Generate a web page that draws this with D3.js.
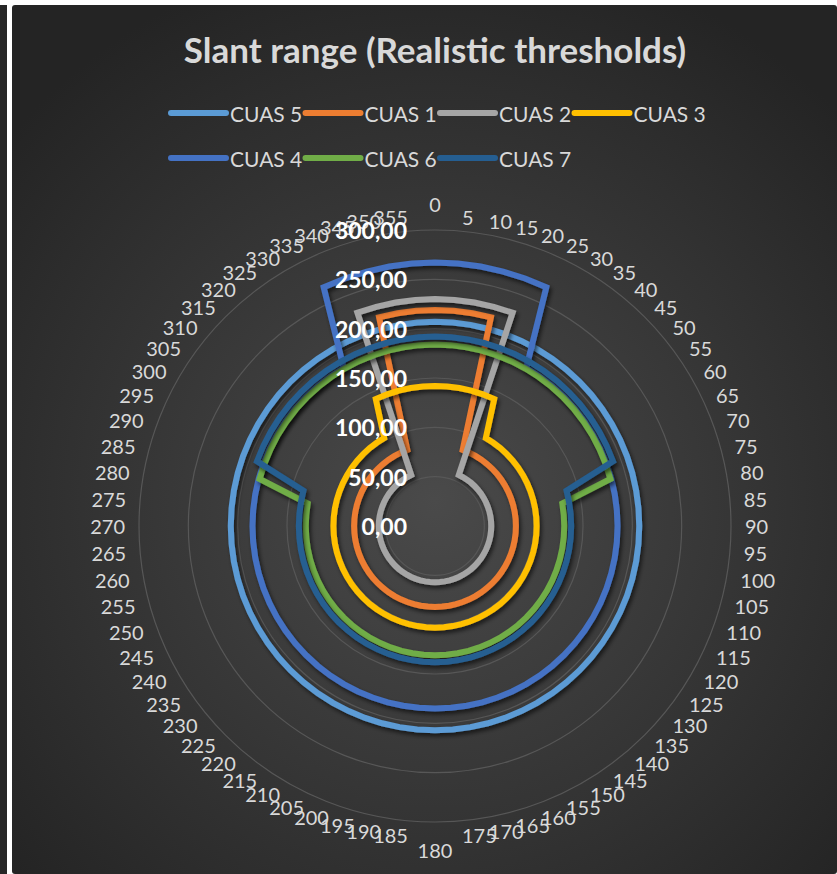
<html lang="en">
<head>
<meta charset="UTF-8">
<title>Slant range (Realistic thresholds)</title>
<script src="https://d3js.org/d3.v7.min.js"></script>
<style>
  body { margin: 0; background: #ffffff; }
  svg { display: block; }
  .cat-label { font-family: Lato, "Noto Sans", sans-serif; font-size: 20px; fill: #d9d9d9; }
  .tick-label { font-family: Lato, "Noto Sans", sans-serif; font-size: 23px; font-weight: bold; fill: #ffffff; }
  .legend-label { font-family: Lato, "Noto Sans", sans-serif; font-size: 21px; fill: #d9d9d9; }
  .title { font-family: Lato, "Noto Sans", sans-serif; font-size: 35px; font-weight: bold; fill: #d9d9d9; }
</style>
</head>
<body>
<div id="chart"></div>

<script>
// Categories (angle in degrees)
const categories = [0, 5, 10, 15, 20, 25, 30, 35, 40, 45, 50, 55, 60, 65, 70, 75, 80, 85,
  90, 95, 100, 105, 110, 115, 120, 125, 130, 135, 140, 145, 150, 155, 160, 165, 170, 175,
  180, 185, 190, 195, 200, 205, 210, 215, 220, 225, 230, 235, 240, 245, 250, 255, 260, 265,
  270, 275, 280, 285, 290, 295, 300, 305, 310, 315, 320, 325, 330, 335, 340, 345, 350, 355];

// Radial axis ticks
const radialTicks = [0, 50, 100, 150, 200, 250, 300];

const seriesNames = ["CUAS 5", "CUAS 1", "CUAS 2", "CUAS 3", "CUAS 4", "CUAS 6", "CUAS 7"];
const seriesColors = ["#5b9bd5", "#ed7d31", "#a5a5a5", "#ffc000", "#4472c4", "#70ad47", "#255e91"];

// Slant range per angle, one value per category
const cuas5 = [
  207, 207, 207, 207, 207, 207, 207, 207, 207, 207, 207, 207,
  207, 207, 207, 207, 207, 207, 207, 207, 207, 207, 207, 207,
  207, 207, 207, 207, 207, 207, 207, 207, 207, 207, 207, 207,
  207, 207, 207, 207, 207, 207, 207, 207, 207, 207, 207, 207,
  207, 207, 207, 207, 207, 207, 207, 207, 207, 207, 207, 207,
  207, 207, 207, 207, 207, 207, 207, 207, 207, 207, 207, 207];
const cuas1 = [
  219, 219, 219, 219, 82, 82, 82, 82, 82, 82, 82, 82,
  82, 82, 82, 82, 82, 82, 82, 82, 82, 82, 82, 82,
  82, 82, 82, 82, 82, 82, 82, 82, 82, 82, 82, 82,
  82, 82, 82, 82, 82, 82, 82, 82, 82, 82, 82, 82,
  82, 82, 82, 82, 82, 82, 82, 82, 82, 82, 82, 82,
  82, 82, 82, 82, 82, 82, 82, 82, 82, 219, 219, 219];
const cuas2 = [
  230, 230, 230, 230, 230, 57, 57, 57, 57, 57, 57, 57,
  57, 57, 57, 57, 57, 57, 57, 57, 57, 57, 57, 57,
  57, 57, 57, 57, 57, 57, 57, 57, 57, 57, 57, 57,
  57, 57, 57, 57, 57, 57, 57, 57, 57, 57, 57, 57,
  57, 57, 57, 57, 57, 57, 57, 57, 57, 57, 57, 57,
  57, 57, 57, 57, 57, 57, 57, 57, 230, 230, 230, 230];
const cuas3 = [
  142, 142, 142, 142, 142, 142, 103, 103, 103, 103, 103, 103,
  103, 103, 103, 103, 103, 103, 103, 103, 103, 103, 103, 103,
  103, 103, 103, 103, 103, 103, 103, 103, 103, 103, 103, 103,
  103, 103, 103, 103, 103, 103, 103, 103, 103, 103, 103, 103,
  103, 103, 103, 103, 103, 103, 103, 103, 103, 103, 103, 103,
  103, 103, 103, 103, 103, 103, 103, 142, 142, 142, 142, 142];
const cuas4 = [
  267, 267, 267, 267, 267, 267, 185, 185, 185, 185, 185, 185,
  185, 185, 185, 185, 185, 185, 185, 185, 185, 185, 185, 185,
  185, 185, 185, 185, 185, 185, 185, 185, 185, 185, 185, 185,
  185, 185, 185, 185, 185, 185, 185, 185, 185, 185, 185, 185,
  185, 185, 185, 185, 185, 185, 185, 185, 185, 185, 185, 185,
  185, 185, 185, 185, 185, 185, 185, 267, 267, 267, 267, 267];
const cuas6 = [
  184, 184, 184, 184, 184, 184, 184, 184, 184, 184, 184, 184,
  184, 184, 184, 184, 131, 131, 131, 131, 131, 131, 131, 131,
  131, 131, 131, 131, 131, 131, 131, 131, 131, 131, 131, 131,
  131, 131, 131, 131, 131, 131, 131, 131, 131, 131, 131, 131,
  131, 131, 131, 131, 131, 131, 131, 131, 131, 184, 184, 184,
  184, 184, 184, 184, 184, 184, 184, 184, 184, 184, 184, 184];
const cuas7 = [
  192, 192, 192, 192, 192, 192, 192, 192, 192, 192, 192, 192,
  192, 192, 192, 138, 138, 138, 138, 138, 138, 138, 138, 138,
  138, 138, 138, 138, 138, 138, 138, 138, 138, 138, 138, 138,
  138, 138, 138, 138, 138, 138, 138, 138, 138, 138, 138, 138,
  138, 138, 138, 138, 138, 138, 138, 138, 138, 138, 192, 192,
  192, 192, 192, 192, 192, 192, 192, 192, 192, 192, 192, 192];

const seriesValues = [cuas5, cuas1, cuas2, cuas3, cuas4, cuas6, cuas7];

// Dimensions
const svgWidth = 837;
const svgHeight = 874;
const cx = 435;
const cy = 526;
const outerRadius = 296;

const svg = d3.select("#chart")
  .append("svg")
  .attr("width", svgWidth)
  .attr("height", svgHeight);

const defs = svg.append("defs");

// Dark radial background like the Excel style
const grad = defs.append("radialGradient")
  .attr("id", "bg")
  .attr("gradientUnits", "userSpaceOnUse")
  .attr("cx", cx).attr("cy", 500).attr("r", 560);
grad.append("stop").attr("offset", 0).attr("stop-color", "#4a4a4a");
grad.append("stop").attr("offset", 1).attr("stop-color", "#242424");

const shadow = defs.append("filter")
  .attr("id", "shadow")
  .attr("x", "-20%").attr("y", "-20%")
  .attr("width", "140%").attr("height", "140%");
shadow.append("feDropShadow")
  .attr("dx", 2).attr("dy", 3)
  .attr("stdDeviation", 2.2)
  .attr("flood-color", "#000")
  .attr("flood-opacity", 0.6);

// Frame
svg.append("rect").attr("x", 0).attr("y", 5).attr("width", 7).attr("height", svgHeight - 5).attr("fill", "#262626");
svg.append("rect").attr("x", 12).attr("y", 5).attr("width", svgWidth - 12).attr("height", svgHeight - 5)
  .attr("rx", 3).attr("fill", "url(#bg)");

// Scales
const rScale = d3.scaleLinear().domain([0, 300]).range([0, outerRadius]);
const angle = d => d * Math.PI / 180;

const g = svg.append("g").attr("transform", `translate(${cx},${cy})`);

// Circular gridlines
g.selectAll(".grid")
  .data(radialTicks.filter(d => d > 0))
  .enter().append("circle")
  .attr("class", "grid")
  .attr("r", d => rScale(d))
  .attr("fill", "none")
  .attr("stroke", "#575757")
  .attr("stroke-width", 1.2);

// Series lines
const line = d3.lineRadial()
  .angle((d, i) => angle(categories[i]))
  .radius(d => rScale(d))
  .curve(d3.curveLinearClosed);

g.selectAll(".series")
  .data(seriesValues)
  .enter().append("path")
  .attr("class", "series")
  .attr("d", d => line(d))
  .attr("fill", "none")
  .attr("stroke", (d, i) => seriesColors[i])
  .attr("stroke-width", 6)
  .attr("stroke-linejoin", "miter")
  .attr("filter", "url(#shadow)");

// Category labels around the outside
const labelR = outerRadius + 14;
g.selectAll(".cat-label")
  .data(categories)
  .enter().append("text")
  .attr("class", "cat-label")
  .attr("x", d => labelR * Math.sin(angle(d)))
  .attr("y", d => {
    const y = -labelR * Math.cos(angle(d));
    if (d === 0) return y - 4;
    if (d === 180) return y + 6;
    return y;
  })
  .attr("text-anchor", d => (d === 0 || d === 180) ? "middle" : (d < 180 ? "start" : "end"))
  .attr("dominant-baseline", d => d === 0 ? "auto" : (d === 180 ? "hanging" : "central"))
  .text(d => d);

// Radial tick labels
g.selectAll(".tick-label")
  .data(radialTicks)
  .enter().append("text")
  .attr("class", "tick-label")
  .attr("x", -28)
  .attr("y", d => -rScale(d))
  .attr("text-anchor", "end")
  .attr("dominant-baseline", "central")
  .text(d => d3.format(".2f")(d).replace(".", ","));

// Title
svg.append("text")
  .attr("class", "title")
  .attr("x", cx)
  .attr("y", 63)
  .attr("text-anchor", "middle")
  .text("Slant range (Realistic thresholds)");

// Legend, two rows
const legendX = 171;
const legendStep = 134.5;
const legend = svg.selectAll(".legend")
  .data(seriesNames)
  .enter().append("g")
  .attr("class", "legend")
  .attr("transform", (d, i) => `translate(${legendX + (i % 4) * legendStep},${i < 4 ? 113 : 158})`);

legend.append("line")
  .attr("x1", 0).attr("x2", 55)
  .attr("stroke", (d, i) => seriesColors[i])
  .attr("stroke-width", 6)
  .attr("stroke-linecap", "round");

legend.append("text")
  .attr("class", "legend-label")
  .attr("x", 59)
  .attr("dominant-baseline", "central")
  .text(d => d);
</script>
</body>
</html>
